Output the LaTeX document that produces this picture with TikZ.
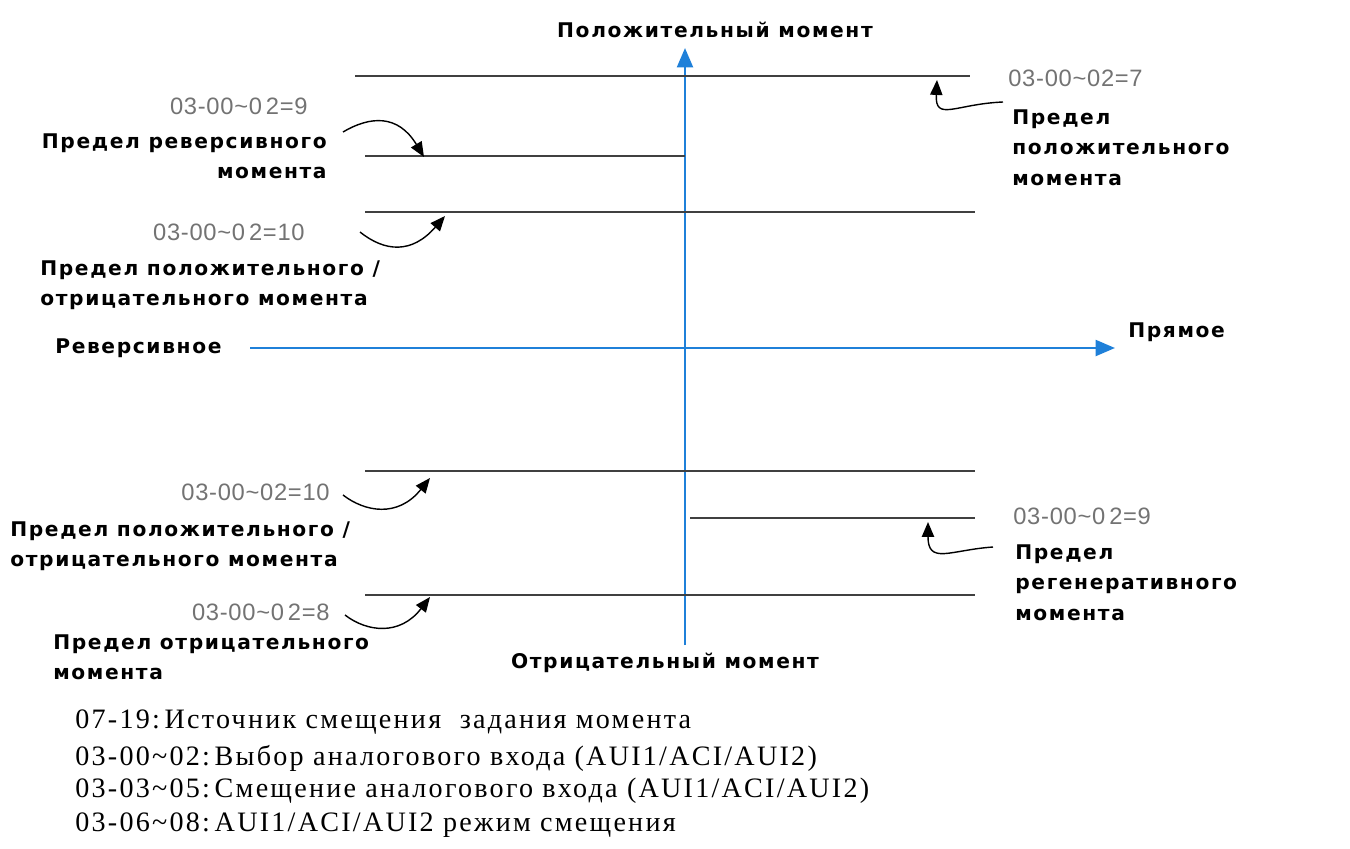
\documentclass[tikz,border=0pt]{standalone}
\usepackage{fontspec}
\setmainfont[LetterSpace=8]{Liberation Serif}
\newfontfamily\lblfont[LetterSpace=8]{DejaVu Sans}
\newfontfamily\numfont[LetterSpace=3]{Liberation Sans}
\usetikzlibrary{arrows.meta}
\definecolor{axisblue}{rgb}{0.12,0.50,0.85}
\definecolor{limitgray}{rgb}{0.25,0.25,0.25}
\definecolor{numgray}{rgb}{0.45,0.45,0.45}

\begin{document}
\begin{tikzpicture}[x=0.02cm, y=-0.02cm,
    axis/.style={draw=axisblue, line width=1.5pt, -{Triangle[length=11pt, width=9pt]}},
    limit/.style={draw=limitgray, line width=1.3pt},
    pointer/.style={draw=black, line width=0.8pt, -{Triangle[length=8.5pt, width=7pt]}},
    lbl/.style={font=\lblfont\bfseries\fontsize{11.5}{17.5}\selectfont, inner sep=0pt},
    num/.style={font=\numfont\fontsize{13.5}{15}\selectfont, text=numgray, inner sep=0pt},
    note/.style={font=\fontsize{16}{19}\selectfont, inner sep=0pt, anchor=west}]
    \useasboundingbox (0,0) rectangle (1350,849);
    % axes
    \coordinate (ytop) at (685,48);
    \coordinate (ybot) at (685,645);
    \coordinate (xleft) at (250,348);
    \coordinate (xright) at (1115,348);
    \draw[axis] (ybot) -- (ytop);
    \draw[axis] (xleft) -- (xright);
    \node[lbl] (pos) at (715,30) {Положительный момент};
    \node[lbl] (neg) at (665,663) {Отрицательный момент};
    \node[lbl, anchor=west] (rev) at (55,348) {Реверсивное};
    \node[lbl, anchor=west] (fwd) at (1128,332) {Прямое};
    % limit lines
    \coordinate (l1a) at (355,76);  \coordinate (l1b) at (970,76);
    \coordinate (l2a) at (365,156); \coordinate (l2b) at (685,156);
    \coordinate (l3a) at (365,212); \coordinate (l3b) at (975,212);
    \coordinate (l4a) at (365,471); \coordinate (l4b) at (975,471);
    \coordinate (l5a) at (690,518); \coordinate (l5b) at (975,518);
    \coordinate (l6a) at (365,595); \coordinate (l6b) at (975,595);
    \draw[limit] (l1a) -- (l1b);
    \draw[limit] (l2a) -- (l2b);
    \draw[limit] (l3a) -- (l3b);
    \draw[limit] (l4a) -- (l4b);
    \draw[limit] (l5a) -- (l5b);
    \draw[limit] (l6a) -- (l6b);
    % top right
    \node[num, anchor=west] (n7) at (1008,78) {03-00\textasciitilde 02=7};
    \node[lbl, anchor=north west, align=left] (t7) at (1012,109) {Предел\\положительного\\момента};
    \coordinate (s7) at (1003,102);
    \coordinate (e7) at (937,80);
    \draw[pointer] (s7) .. controls (955,104) and (935,122) .. (e7);
    % top left, =9
    \node[num, anchor=east] (n9) at (308,106) {03-00\textasciitilde 0\,2=9};
    \node[lbl, anchor=north east, align=right] (t9) at (327,133) {Предел реверсивного\\момента};
    \coordinate (s9) at (343,132);
    \coordinate (e9) at (424,157);
    \draw[pointer] (s9) .. controls (370,116) and (398,114) .. (e9);
    % top left, =10
    \node[num, anchor=east] (n10a) at (305,232) {03-00\textasciitilde 0\,2=10};
    \node[lbl, anchor=north west, align=left] (t10a) at (40,260) {Предел положительного /\\отрицательного момента};
    \coordinate (s10a) at (360,232);
    \coordinate (e10a) at (445,216);
    \draw[pointer] (s10a) .. controls (385,252) and (412,254) .. (e10a);
    % bottom left, =10
    \node[num, anchor=east] (n10b) at (330,492) {03-00\textasciitilde 02=10};
    \node[lbl, anchor=north west, align=left] (t10b) at (10,521) {Предел положительного /\\отрицательного момента};
    \coordinate (s10b) at (343,495);
    \coordinate (e10b) at (430,478);
    \draw[pointer] (s10b) .. controls (365,512) and (398,518) .. (e10b);
    % bottom left, =8
    \node[num, anchor=east] (n8) at (330,612) {03-00\textasciitilde 0\,2=8};
    \node[lbl, anchor=north west, align=left] (t8) at (53,634) {Предел отрицательного\\момента};
    \coordinate (s8) at (345,615);
    \coordinate (e8) at (430,597);
    \draw[pointer] (s8) .. controls (367,632) and (400,636) .. (e8);
    % bottom right, =9
    \node[num, anchor=west] (n9b) at (1013,516) {03-00\textasciitilde 0\,2=9};
    \node[lbl, anchor=north west, align=left] (t9b) at (1015,544) {Предел\\регенеративного\\момента};
    \coordinate (s9b) at (993,547);
    \coordinate (e9b) at (928,522);
    \draw[pointer] (s9b) .. controls (950,550) and (928,565) .. (e9b);
    % parameter list
    \node[note] (p1) at (75,722) {07-19:\,Источник смещения\ \ задания момента};
    \node[note] (p2) at (75,758) {03-00\textasciitilde 02:\,Выбор аналогового входа (AUI1/ACI/AUI2)};
    \node[note] (p3) at (75,791) {03-03\textasciitilde 05:\,Смещение аналогового входа (AUI1/ACI/AUI2)};
    \node[note] (p4) at (75,825) {03-06\textasciitilde 08:\,AUI1/ACI/AUI2 режим смещения};
\end{tikzpicture}
\end{document}
